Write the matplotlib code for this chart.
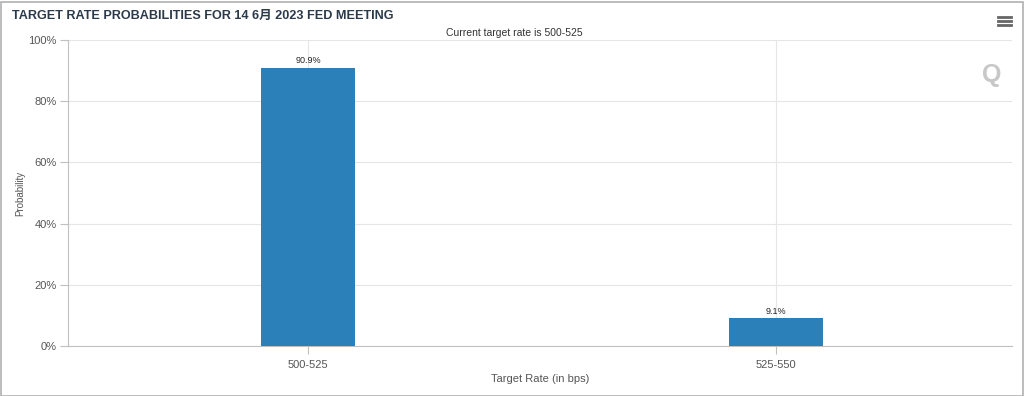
import matplotlib
matplotlib.use('Agg')
from matplotlib import pyplot as plt
from matplotlib.patches import Rectangle

#data
rates = ['500-525', '525-550']
probs = [90.9, 9.1]
yticks = [0, 20, 40, 60, 80, 100]

title = 'TARGET RATE PROBABILITIES FOR 14 6月 2023 FED MEETING'
subtitle = 'Current target rate is 500-525'

fonts = ['Liberation Sans', 'Noto Sans CJK SC', 'DejaVu Sans']
plt.rcParams['font.family'] = fonts

W, H = 1024, 396
fig = plt.figure(figsize=(W/100, H/100), dpi=100)
ax = fig.add_axes([68/W, 1 - 346/H, (1012 - 68)/W, (346 - 40)/H])

x = range(len(rates))
bars = ax.bar(x, probs, width=0.2, color='#2b80b9', zorder=3)
for b, p in zip(bars, probs):
    ax.text(b.get_x() + b.get_width()/2, p + 0.8, f'{p}%', ha='center', va='bottom',
            fontsize=6.5, color='#222222', zorder=4)

ax.set_xlim(-0.513, 1.504)
ax.set_ylim(0, 100)
ax.set_xticks(list(x))
ax.set_xticklabels(rates, fontsize=8, color='#555555')
ax.set_yticks(yticks)
ax.set_yticklabels([f'{v}%' for v in yticks], fontsize=8, color='#555555')
ax.grid(True, color='#e6e6e6', linewidth=0.8, zorder=0)
for s in ['top', 'right']:
    ax.spines[s].set_visible(False)
ax.spines['left'].set_color('#c0c0c0')
ax.spines['bottom'].set_color('#c0c0c0')
ax.tick_params(axis='y', length=6, color='#c0c0c0', pad=2)
ax.tick_params(axis='x', length=6, color='#c0c0c0', pad=4)
ax.set_xlabel('Target Rate (in bps)', fontsize=8, color='#555555', labelpad=3)
ax.set_ylabel('Probability', fontsize=7, color='#555555', labelpad=2)

fig.text(12/W, 1 - 16/H, title, fontsize=9.1, fontweight='bold', color='#2b3a4a',
         va='center', ha='left')
fig.text(514/W, 1 - 33/H, subtitle, fontsize=7.5, color='#333333', va='center', ha='center')

# menu icon
for dy in [17, 21, 25]:
    fig.add_artist(plt.Line2D([998/W, 1011/W], [1 - dy/H, 1 - dy/H], color='#666666', linewidth=2))
# watermark
fig.text(992/W, 1 - 75/H, 'Q', fontsize=18, fontweight='bold', color='#c8c8c8',
         ha='center', va='center')

fig.add_artist(Rectangle((0.5/W, 0.5/H), 1 - 2/W, 1 - 2/H, transform=fig.transFigure,
                         fill=False, edgecolor='#b0b0b0', linewidth=1.2))

fig.savefig('out.png', dpi=100)
